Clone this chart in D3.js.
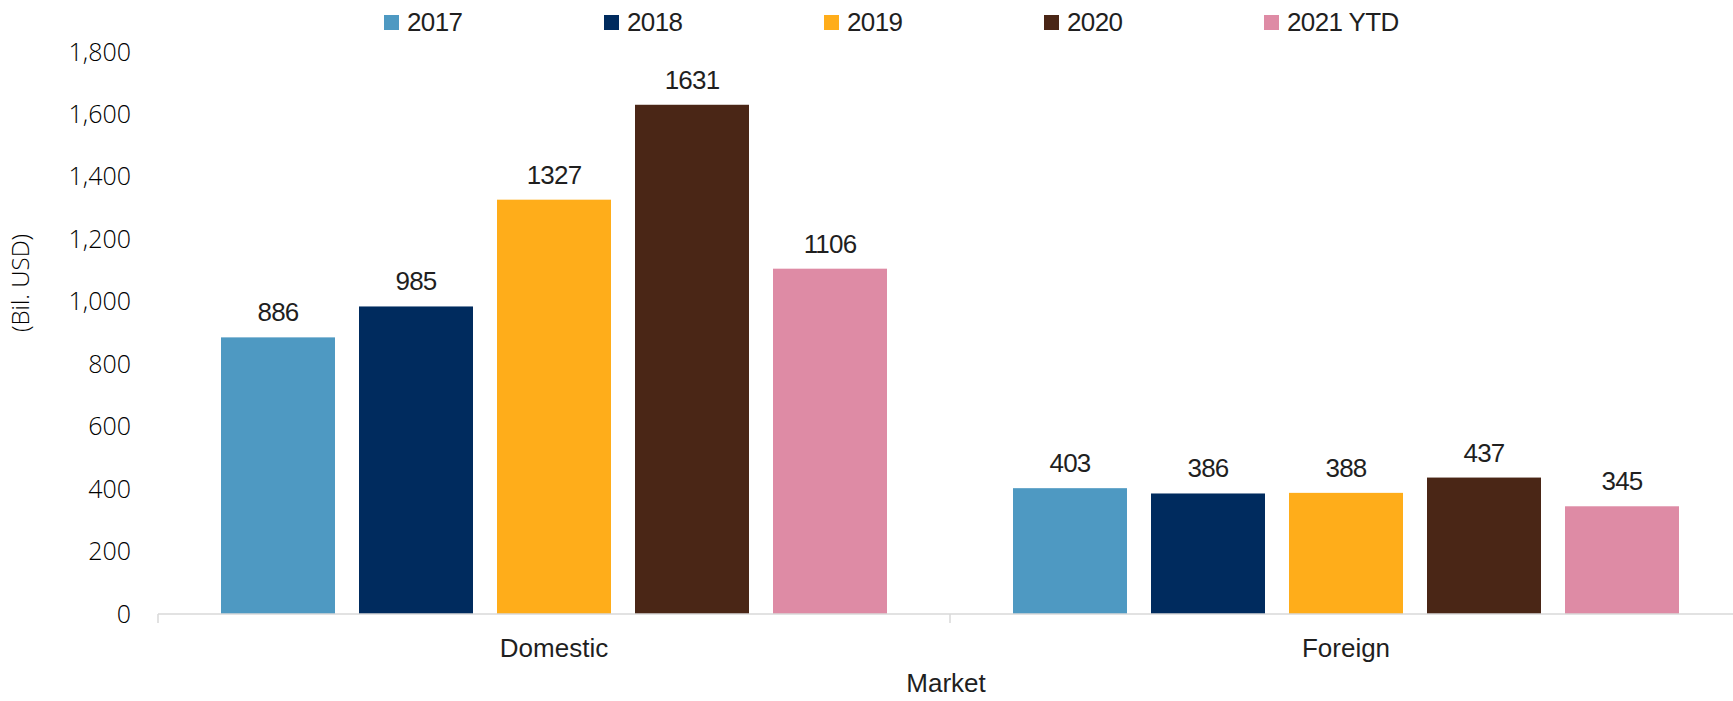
<!DOCTYPE html>
<html>
<head>
<meta charset="utf-8">
<script src="https://cdn.jsdelivr.net/npm/d3@7"></script>
<style>
  html, body { margin: 0; padding: 0; background: #fff; }
  svg { display: block; }
</style>
</head>
<body>
<svg id="chart" width="1733" height="701"></svg>
<script>
// Issuance by market, billions of USD
const markets = ["Domestic", "Foreign"];
const years = ["2017", "2018", "2019", "2020", "2021 YTD"];
const domesticValues = [886, 985, 1327, 1631, 1106];
const foreignValues = [403, 386, 388, 437, 345];
const yTicks = [0, 200, 400, 600, 800, 1000, 1200, 1400, 1600, 1800];
const colors = ["#4E99C2", "#002B5E", "#FFAD1A", "#4A2616", "#DE8BA5"];

const seriesByMarket = { Domestic: domesticValues, Foreign: foreignValues };
const rows = markets.map(m => ({
  market: m,
  values: years.map((y, i) => ({ year: y, value: seriesByMarket[m][i] }))
}));

const svg = d3.select("#chart");
const plot = { left: 158, right: 1742, top: 52, bottom: 614 };

const numFont = "'Liberation Sans', Arial, sans-serif";
const axisFont = "'Open Sans', 'Noto Sans', sans-serif";

const x0 = d3.scaleBand().domain(markets).range([plot.left, plot.right]).padding(0);
const groupPad = 63;
const x1 = d3.scaleBand().domain(years)
  .range([groupPad, x0.bandwidth() - groupPad])
  .paddingInner(0.174).paddingOuter(0);
const y = d3.scaleLinear().domain([0, 1800]).range([plot.bottom, plot.top]);
const color = d3.scaleOrdinal().domain(years).range(colors);

// Y axis: labels only, no line
const yAxis = svg.append("g")
  .attr("transform", `translate(${plot.left},0)`)
  .call(d3.axisLeft(y).tickValues(yTicks).tickFormat(d3.format(",")).tickSize(0).tickPadding(27));
yAxis.select(".domain").remove();
yAxis.selectAll("text")
  .attr("font-family", axisFont)
  .attr("font-weight", 300)
  .attr("font-size", 25)
  .attr("fill", "#000");

// Y axis title
svg.append("text")
  .attr("transform", "translate(29,283) rotate(-90)")
  .attr("text-anchor", "middle")
  .attr("font-family", axisFont)
  .attr("font-weight", 300)
  .attr("font-size", 24)
  .attr("fill", "#000")
  .text("(Bil. USD)");

// Bars
const groups = svg.append("g").selectAll("g")
  .data(rows).join("g")
  .attr("transform", d => `translate(${x0(d.market)},0)`);

groups.selectAll("rect")
  .data(d => d.values).join("rect")
  .attr("x", d => x1(d.year))
  .attr("y", d => y(d.value))
  .attr("width", x1.bandwidth())
  .attr("height", d => y(0) - y(d.value))
  .attr("fill", d => color(d.year));

// Value labels
groups.selectAll("text.val")
  .data(d => d.values).join("text")
  .attr("class", "val")
  .attr("x", d => x1(d.year) + x1.bandwidth() / 2)
  .attr("y", d => y(d.value) - 16)
  .attr("text-anchor", "middle")
  .attr("font-family", numFont)
  .attr("font-size", 26)
  .attr("letter-spacing", "-0.8px")
  .attr("fill", "#1f1f1f")
  .text(d => d.value);

// X axis: baseline with category separators
const xAxis = svg.append("g")
  .attr("transform", `translate(0,${plot.bottom})`);
xAxis.append("line")
  .attr("x1", plot.left).attr("x2", plot.right)
  .attr("stroke", "#d9d9d9").attr("stroke-width", 1.5);
const boundaries = [plot.left].concat(markets.map(m => x0(m) + x0.bandwidth()));
xAxis.selectAll("line.sep")
  .data(boundaries).join("line")
  .attr("class", "sep")
  .attr("x1", d => d).attr("x2", d => d)
  .attr("y1", 0).attr("y2", 9)
  .attr("stroke", "#d9d9d9").attr("stroke-width", 1.5);
xAxis.selectAll("text.cat")
  .data(markets).join("text")
  .attr("class", "cat")
  .attr("x", d => x0(d) + x0.bandwidth() / 2)
  .attr("y", 43)
  .attr("text-anchor", "middle")
  .attr("font-family", numFont)
  .attr("font-size", 26)
  .attr("fill", "#1f1f1f")
  .text(d => d);

// X axis title
svg.append("text")
  .attr("x", (plot.left + plot.right) / 2 - 4)
  .attr("y", 692)
  .attr("text-anchor", "middle")
  .attr("font-family", numFont)
  .attr("font-size", 26)
  .attr("fill", "#1f1f1f")
  .text("Market");

// Legend
const legend = svg.append("g").selectAll("g")
  .data(years).join("g")
  .attr("transform", (d, i) => `translate(${384 + i * 220},15)`);
legend.append("rect")
  .attr("width", 15).attr("height", 15)
  .attr("fill", d => color(d));
legend.append("text")
  .attr("x", 23).attr("y", 16)
  .attr("font-family", numFont)
  .attr("font-size", 26)
  .attr("letter-spacing", "-0.6px")
  .attr("fill", "#1f1f1f")
  .text(d => d);
</script>
</body>
</html>
